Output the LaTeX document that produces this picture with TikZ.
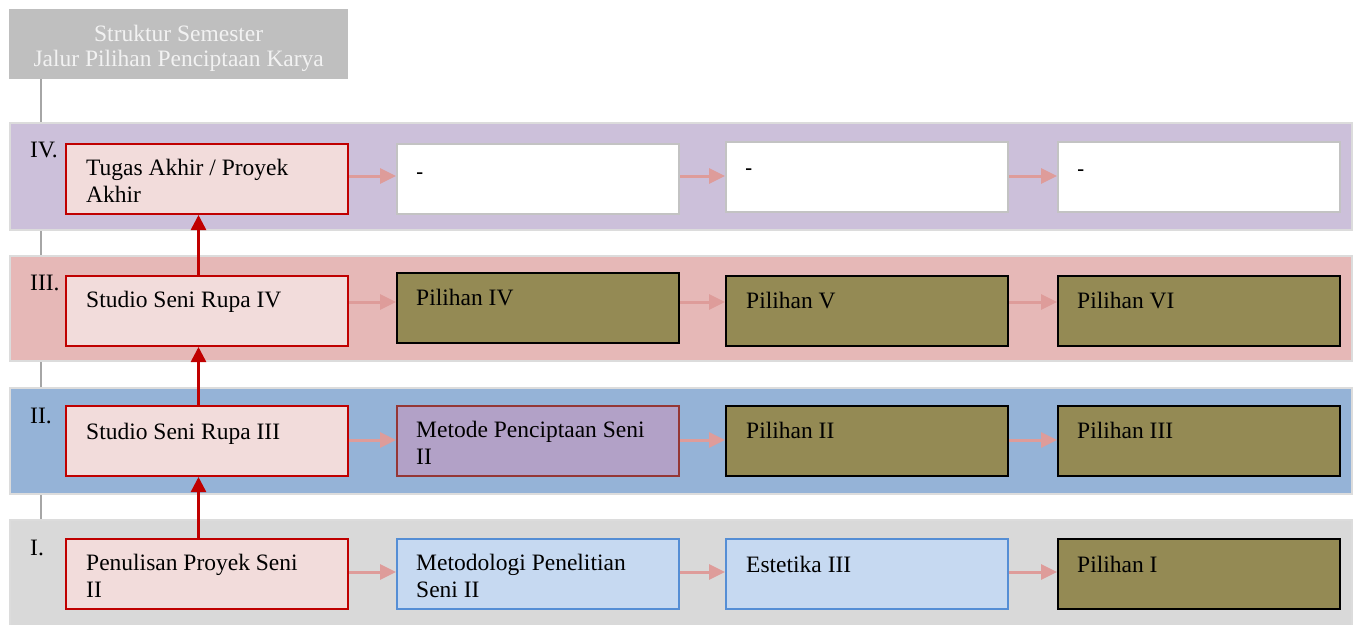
\documentclass[tikz,border=0pt]{standalone}
\usepackage{fontspec}
\setmainfont{Liberation Serif}
\newfontfamily\dashfont{Liberation Sans}
\usetikzlibrary{arrows.meta}
\definecolor{hdrgray}{HTML}{BFBFBF}
\definecolor{hdrtext}{HTML}{F2F2F2}
\definecolor{vlinec}{HTML}{A6A6A6}
\definecolor{bandline}{HTML}{DCDCDC}
\definecolor{bandIVc}{HTML}{CCC0DA}
\definecolor{bandIIIc}{HTML}{E6B8B7}
\definecolor{bandIIc}{HTML}{95B3D7}
\definecolor{bandIc}{HTML}{D9D9D9}
\definecolor{redfill}{HTML}{F2DCDB}
\definecolor{reddraw}{HTML}{C00000}
\definecolor{olive}{HTML}{948A54}
\definecolor{purplefill}{HTML}{B2A1C7}
\definecolor{purpledraw}{HTML}{953735}
\definecolor{bluefill}{HTML}{C6D9F1}
\definecolor{bluedraw}{HTML}{558ED5}
\definecolor{graydraw}{HTML}{C3C3C3}
\definecolor{pinkarr}{HTML}{DE9C9A}
\newcommand\twoln[2]{\vtop{\hbox{#1}\hbox{#2}}}
\begin{document}
\begin{tikzpicture}[x=1pt,y=-1pt,
  band/.style={draw=bandline, line width=1.5pt, anchor=north west, inner sep=0pt, minimum width=1342pt, minimum height=#1},
  box/.style={anchor=north west, inner sep=0pt, minimum width=282pt, minimum height=70pt, line width=2pt},
  redbox/.style={box, fill=redfill, draw=reddraw},
  whitebox/.style={box, fill=white, draw=graydraw},
  olivebox/.style={box, fill=olive, draw=black},
  purplebox/.style={box, fill=purplefill, draw=purpledraw, line width=1.8pt},
  bluebox/.style={box, fill=bluefill, draw=bluedraw, line width=1.8pt},
  txt/.style={anchor=base west, inner sep=0pt, font=\fontsize{23.5}{27.5}\selectfont},
  dashtxt/.style={anchor=base west, inner sep=0pt, font=\dashfont\fontsize{22}{26}\selectfont},
  parrow/.style={draw=pinkarr, line width=3pt, -{Triangle[length=16pt,width=15pt]}},
  rarrow/.style={draw=reddraw, line width=2.5pt, -{Triangle[length=15pt,width=15pt]}},
  vline/.style={draw=vlinec, line width=1.5pt}
]
\useasboundingbox (0,0) rectangle (1357,624);

% header
\node[anchor=north west, fill=hdrgray, inner sep=0pt, minimum width=339pt, minimum height=70pt] (hdr) at (9,9) {};
\node[anchor=base west, inner sep=0pt, text=hdrtext, font=\fontsize{23.5}{25}\selectfont] (htxt) at (9,41.7)
  {\vtop{\hbox to 339pt{\hfil Struktur Semester\hfil}\hbox to 339pt{\hfil Jalur Pilihan Penciptaan Karya\hfil}}};

% vertical guide line
\coordinate (vtop) at (41,79);
\coordinate (vbot) at (41,519);
\draw[vline] (vtop) -- (vbot);

% bands
\node[band=107pt, fill=bandIVc] (bandIV) at (9,122) {};
\node[band=105pt, fill=bandIIIc] (bandIII) at (9,255) {};
\node[band=106pt, fill=bandIIc] (bandII) at (9,387) {};
\node[band=106pt, fill=bandIc] (bandI) at (9,519) {};

% roman numerals
\node[txt] (rIV) at (30,157) {IV.};
\node[txt] (rIII) at (30,290) {III.};
\node[txt] (rII) at (30,423) {II.};
\node[txt] (rI) at (30,555) {I.};

% row IV
\node[redbox] (b41) at (65,143) {};
\node[whitebox] (b42) at (396,143) {};
\node[whitebox] (b43) at (725,141) {};
\node[whitebox] (b44) at (1057,141) {};
\node[txt] (t41) at ([shift={(21,32)}]b41.north west) {\twoln{Tugas Akhir / Proyek}{Akhir}};
\node[dashtxt] (t42) at ([shift={(20,36)}]b42.north west) {-};
\node[dashtxt] (t43) at ([shift={(20,34)}]b43.north west) {-};
\node[dashtxt] (t44) at ([shift={(20,35)}]b44.north west) {-};

% row III
\node[redbox] (b31) at (65,275) {};
\node[olivebox] (b32) at (396,272) {};
\node[olivebox] (b33) at (725,275) {};
\node[olivebox] (b34) at (1057,275) {};
\node[txt] (t31) at ([shift={(21,32)}]b31.north west) {Studio Seni Rupa IV};
\node[txt] (t32) at ([shift={(20,33)}]b32.north west) {Pilihan IV};
\node[txt] (t33) at ([shift={(21,33)}]b33.north west) {Pilihan V};
\node[txt] (t34) at ([shift={(20,33)}]b34.north west) {Pilihan VI};

% row II
\node[redbox] (b21) at (65,405) {};
\node[purplebox] (b22) at (396,405) {};
\node[olivebox] (b23) at (725,405) {};
\node[olivebox] (b24) at (1057,405) {};
\node[txt] (t21) at ([shift={(21,34)}]b21.north west) {Studio Seni Rupa III};
\node[txt] (t22) at ([shift={(20,32)}]b22.north west) {\twoln{Metode Penciptaan Seni}{II}};
\node[txt] (t23) at ([shift={(21,33)}]b23.north west) {Pilihan II};
\node[txt] (t24) at ([shift={(20,33)}]b24.north west) {Pilihan III};

% row I
\node[redbox] (b11) at (65,538) {};
\node[bluebox] (b12) at (396,538) {};
\node[bluebox] (b13) at (725,538) {};
\node[olivebox] (b14) at (1057,538) {};
\node[txt] (t11) at ([shift={(21,32)}]b11.north west) {\twoln{Penulisan Proyek Seni}{II}};
\node[txt] (t12) at ([shift={(20,32)}]b12.north west) {\twoln{Metodologi Penelitian}{Seni II}};
\node[txt] (t13) at ([shift={(21,34)}]b13.north west) {Estetika III};
\node[txt] (t14) at ([shift={(20,34)}]b14.north west) {Pilihan I};

% arrow levels
\coordinate (r4y) at (0,176);
\coordinate (r3y) at (0,302);
\coordinate (r2y) at (0,440);
\coordinate (r1y) at (0,572);
\coordinate (ax) at (198.5,0);

% horizontal arrows
\draw[parrow] (b41.east |- r4y) -- (b42.west |- r4y);
\draw[parrow] (b42.east |- r4y) -- (b43.west |- r4y);
\draw[parrow] (b43.east |- r4y) -- (b44.west |- r4y);
\draw[parrow] (b31.east |- r3y) -- (b32.west |- r3y);
\draw[parrow] (b32.east |- r3y) -- (b33.west |- r3y);
\draw[parrow] (b33.east |- r3y) -- (b34.west |- r3y);
\draw[parrow] (b21.east |- r2y) -- (b22.west |- r2y);
\draw[parrow] (b22.east |- r2y) -- (b23.west |- r2y);
\draw[parrow] (b23.east |- r2y) -- (b24.west |- r2y);
\draw[parrow] (b11.east |- r1y) -- (b12.west |- r1y);
\draw[parrow] (b12.east |- r1y) -- (b13.west |- r1y);
\draw[parrow] (b13.east |- r1y) -- (b14.west |- r1y);

% vertical red arrows
\draw[rarrow] (b11.north -| ax) -- (b21.south -| ax);
\draw[rarrow] (b21.north -| ax) -- (b31.south -| ax);
\draw[rarrow] (b31.north -| ax) -- (b41.south -| ax);
\end{tikzpicture}
\end{document}
